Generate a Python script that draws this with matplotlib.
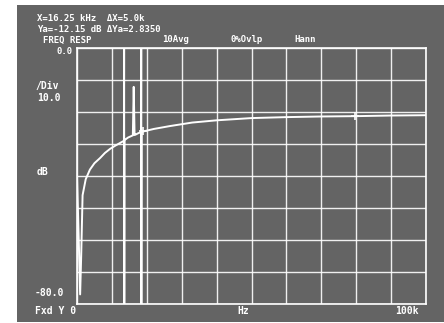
import numpy as np
import matplotlib
matplotlib.use('Agg')
import matplotlib.pyplot as plt

########## Data ##########
# frequency response trace (kHz , dB)
freq_khz = [0.0 , 0.5 , 0.9 , 1.2 , 1.6 , 2.5 , 3.7 , 5.0 , 6.6 , 8.0 , 9.5 , 11.0 , 12.3 ,
            13.45 , 13.5 , 13.55 , 13.6 , 14.6 , 15.6 , 16.0 , 16.25 , 16.5 , 16.9 , 17.6 ,
            18.35 , 18.4 , 18.45 , 18.5 , 19.3 , 22.0 , 26.6 , 33.0 , 40.0 , 50.0 , 60.0 ,
            70.0 , 79.7 , 90.0 , 100.0]
resp_db = [-40.0 , -60.0 , -77.0 , -65.0 , -46.0 , -41.0 , -38.0 , -36.0 , -34.4 , -32.8 , -31.5 , -30.5 , -29.7 ,
           -29.0 , 0.0 , -80.0 , -28.8 , -28.0 , -27.5 , -27.3 , -12.15 , -27.2 , -27.0 , -26.6 ,
           -26.3 , 0.0 , -80.0 , -26.2 , -26.0 , -25.3 , -24.4 , -23.3 , -22.6 , -21.9 , -21.6 ,
           -21.4 , -21.3 , -21.1 , -21.0]
marker_khz = [18.9 , 79.7]
marker_db = [-25.9 , -21.3]

x_ticks = np.arange(0 , 101 , 10)
y_ticks = np.arange(-80 , 1 , 10)

########## Style ##########
W , H = 444 , 323
scr_col = '#646464'
fg = 'white'
mono = 'DejaVu Sans Mono'

def fx(px):
    return px / W

def fy(py):
    return 1 - py / H

########## Plot ##########
fig = plt.figure(figsize = [W / 100 , H / 100] , dpi = 100)
fig.patch.set_facecolor('white')

# screen background
scr = fig.add_axes([fx(17) , fy(322) , fx(444 - 17) , (322 - 5) / H])
scr.set_facecolor(scr_col)
scr.set_xticks([])
scr.set_yticks([])
for s in scr.spines.values():
    s.set_visible(False)

# measurement grid
ax = fig.add_axes([fx(77) , fy(304) , fx(426 - 77) , (304 - 48) / H])
ax.set_facecolor('none')
ax.set_xlim(0 , 100)
ax.set_ylim(-80 , 0)
ax.set_xticks(x_ticks)
ax.set_yticks(y_ticks)
ax.tick_params(length = 0 , labelbottom = False , labelleft = False)
ax.grid(True , color = fg , linewidth = 1.0 , alpha = 0.9)
for s in ax.spines.values():
    s.set_color(fg)
    s.set_linewidth(1.2)

ax.plot(freq_khz , resp_db , color = fg , linewidth = 1.4 , zorder = 5)
ax.plot(marker_khz , marker_db , linestyle = 'none' , marker = '+' , markersize = 6 ,
        markeredgewidth = 1.2 , color = fg , zorder = 6)

########## Text ##########
kw = dict(color = fg , family = mono , fontweight = 'bold' , va = 'center')
fig.text(fx(37) , fy(18.5) , 'X=16.25 kHz  \u0394X=5.0k' , fontsize = 6.5 , **kw)
fig.text(fx(37) , fy(29) , 'Ya=-12.15 dB \u0394Ya=2.8350' , fontsize = 6.5 , **kw)
fig.text(fx(43) , fy(40) , 'FREQ RESP' , fontsize = 6.5 , **kw)
fig.text(fx(162) , fy(40) , '10Avg' , fontsize = 6.5 , **kw)
fig.text(fx(230) , fy(40) , '0%Ovlp' , fontsize = 6.5 , **kw)
fig.text(fx(294) , fy(40) , 'Hann' , fontsize = 6.5 , **kw)
fig.text(fx(73) , fy(51.5) , '0.0' , ha = 'right' , fontsize = 6.5 , **kw)
fig.text(fx(35) , fy(86) , '/Div' , fontsize = 7 , **kw)
fig.text(fx(37) , fy(98) , '10.0' , fontsize = 7 , **kw)
fig.text(fx(37) , fy(172) , 'dB' , fontsize = 7 , **kw)
fig.text(fx(35) , fy(293) , '-80.0' , fontsize = 7 , **kw)
fig.text(fx(35) , fy(311) , 'Fxd Y 0' , fontsize = 7 , **kw)
fig.text(fx(237) , fy(311) , 'Hz' , fontsize = 7 , **kw)
fig.text(fx(395) , fy(311) , '100k' , fontsize = 7 , **kw)

fig.savefig('out.png' , dpi = 100)
